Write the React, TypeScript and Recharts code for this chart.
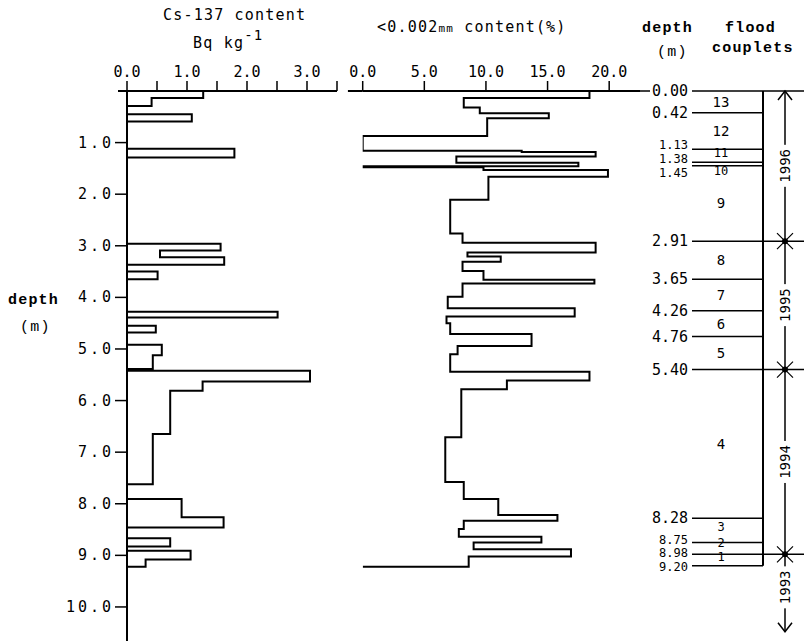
import React from 'react'
import { LineChart, Line, XAxis, YAxis, ReferenceLine, ReferenceDot } from 'recharts'

const FONT = '"DejaVu Sans Mono", monospace'
const BOLD = '"Liberation Mono", monospace'
const depthMax = 10.66

// Cs-137 profile: top depth of each layer (m) and its content (Bq/kg)
const csTop = [0, 0.135, 0.29, 0.45, 0.59, 1.12, 1.29, 2.96, 3.09, 3.22, 3.37, 3.5, 3.65, 4.28, 4.39, 4.55, 4.68, 4.92, 5.12, 5.39, 5.42, 5.63, 5.81, 6.65, 7.62, 7.91, 8.26, 8.46, 8.67, 8.83, 8.91, 9.08, 9.22]
const csValue = [1.27, 0.41, 0, 1.08, 0, 1.79, 0, 1.56, 0.55, 1.62, 0, 0.51, 0, 2.51, 0, 0.48, 0, 0.58, 0.43, 0, 3.05, 1.26, 0.72, 0.43, 0, 0.91, 1.61, 0, 0.72, 0, 1.06, 0.31, 0]

// <0.002mm clay profile (%)
const clayTop = [0, 0.135, 0.32, 0.43, 0.53, 0.87, 1.16, 1.18, 1.27, 1.39, 1.46, 1.48, 1.53, 1.66, 2.11, 2.76, 2.94, 3.13, 3.21, 3.31, 3.49, 3.66, 3.73, 3.99, 4.21, 4.37, 4.5, 4.71, 4.94, 5.1, 5.44, 5.61, 5.78, 6.71, 7.58, 7.91, 8.22, 8.33, 8.49, 8.64, 8.75, 8.88, 9.02, 9.22]
const clayValue = [18.4, 8.2, 9.5, 15.1, 10.1, 0, 12.9, 18.9, 7.6, 17.5, 0, 9.8, 19.9, 10.2, 7.1, 8.1, 18.9, 8.5, 11.2, 8.1, 9.8, 18.8, 8.1, 6.9, 17.2, 6.8, 7.1, 13.7, 7.7, 7.1, 18.4, 11.7, 8.0, 6.7, 8.2, 11.0, 15.8, 8.2, 7.8, 14.5, 9.0, 16.9, 8.6, 0]

const depthTicks = [1, 2, 3, 4, 5, 6, 7, 8, 9, 10]
const csTicks = [0, 0.5, 1, 1.5, 2, 2.5, 3, 3.5]
const clayTicks = [0, 5, 10, 15, 20]

// flood couplet boundaries (m), couplets numbered from the bottom
const boundaryDepths = [0, 0.42, 1.13, 1.38, 1.45, 2.91, 3.65, 4.26, 4.76, 5.4, 8.28, 8.75, 8.98, 9.2]
const yearBreaks = [0, 2.91, 5.4, 8.98]
const years = ['1996', '1995', '1994', '1993']
const yearCenters = [1.45, 4.15, 7.19, 9.62]

const csData = csTop.map((depth, i) => ({ depth, v: csValue[i] }))
const clayData = clayTop.map((depth, i) => ({ depth, v: clayValue[i] }))
const bracketData = boundaryDepths.map(depth => ({ depth, x: 143 }))

const axisStyle = { stroke: '#000', strokeWidth: 2 }
const tickLineStyle = { stroke: '#000', strokeWidth: 1.5 }

// label nudges (px) where lines are too close together
const crowded: Record<string, number> = { '1.13': -4, '1.38': -3, '1.45': 7, '8.75': -2, '8.98': -1, '9.20': 1 }
const coupletNudge: Record<number, number> = { 11: -3, 10: 7, 3: -3, 2: -5, 1: -3 }

function TopTick(props: any) {
  const { x, y, payload } = props
  const v = payload.value
  if (!Number.isInteger(v)) return null
  return (
    <text x={x} y={y} dy={-1} textAnchor="middle" fontFamily={FONT} fontSize={15} fill="#000">
      {v.toFixed(1)}
    </text>
  )
}

function DepthTick(props: any) {
  const { x, y, payload } = props
  return (
    <text x={x + 3} y={y} dy={5} textAnchor="end" fontFamily={FONT} fontSize={15} letterSpacing={3} fill="#000">
      {payload.value.toFixed(1)}
    </text>
  )
}

export default function App() {
  const box: React.CSSProperties = { position: 'absolute', top: 0, left: 0, width: 804, height: 641, background: '#fff', overflow: 'hidden', color: '#000' }
  const t = (left: number, top: number, extra: React.CSSProperties = {}): React.CSSProperties => ({
    position: 'absolute', left, top, fontFamily: FONT, fontSize: 15, lineHeight: '18px', whiteSpace: 'pre', letterSpacing: 1.2, ...extra,
  })
  return (
    <div style={box}>
      <div style={{ position: 'absolute', left: 0, top: 0 }}>
        <LineChart layout="vertical" width={345} height={641} data={csData} margin={{ top: 61, right: 8, bottom: 0, left: 77 }}>
          <XAxis type="number" orientation="top" domain={[0, 3.5]} ticks={csTicks} interval={0} height={30} tickSize={10} tickMargin={3}
            axisLine={axisStyle} tickLine={tickLineStyle} tick={<TopTick />} allowDataOverflow />
          <YAxis type="number" dataKey="depth" domain={[0, depthMax]} ticks={depthTicks} interval={0} width={50} tickSize={12} tickMargin={4}
            axisLine={axisStyle} tickLine={tickLineStyle} tick={<DepthTick />} allowDataOverflow />
          <ReferenceLine segment={[{ x: -0.15, y: 0 }, { x: 0, y: 0 }]} stroke="#000" strokeWidth={2} ifOverflow="visible" />
          <Line type="stepBefore" dataKey="v" stroke="#000" strokeWidth={2} dot={false} isAnimationActive={false} />
        </LineChart>
      </div>

      <div style={{ position: 'absolute', left: 345, top: 0 }}>
        <LineChart layout="vertical" width={295} height={641} data={clayData} margin={{ top: 61, right: 0, bottom: 0, left: 17.7 }}>
          <XAxis type="number" orientation="top" domain={[0, 22.5]} ticks={clayTicks} interval={0} height={30} tickSize={10} tickMargin={3}
            axisLine={axisStyle} tickLine={tickLineStyle} tick={<TopTick />} allowDataOverflow />
          <YAxis type="number" dataKey="depth" domain={[0, depthMax]} width={0} tick={false} tickLine={false} axisLine={axisStyle} allowDataOverflow />
          <ReferenceLine segment={[{ x: -1.2, y: 0 }, { x: 0, y: 0 }]} stroke="#000" strokeWidth={2} ifOverflow="visible" />
          <Line type="stepBefore" dataKey="v" stroke="#000" strokeWidth={2} dot={false} isAnimationActive={false} />
        </LineChart>
      </div>

      <div style={{ position: 'absolute', left: 620, top: 0 }}>
        <LineChart layout="vertical" width={184} height={641} data={bracketData} margin={{ top: 91, right: 0, bottom: 0, left: 0 }}>
          <XAxis type="number" hide domain={[0, 184]} />
          <YAxis type="number" dataKey="depth" hide domain={[0, depthMax]} />
          <Line type="linear" dataKey="x" stroke="#000" strokeWidth={2} dot={false} isAnimationActive={false} />
          {boundaryDepths.map(d => {
            const long = yearBreaks.includes(d)
            return (
              <ReferenceLine key={'b' + d} segment={[{ x: d === 0 ? 0 : 72, y: d }, { x: long ? 184 : 143, y: d }]} stroke="#000" strokeWidth={1.5} />
            )
          })}
          <ReferenceLine segment={[{ x: 165, y: 0 }, { x: 165, y: 10.48 }]} stroke="#000" strokeWidth={1.5} />
          <ReferenceDot x={165} y={0} r={0} shape={(p: any) => (
            <path d={`M${p.cx - 7},${p.cy + 9} L${p.cx},${p.cy} L${p.cx + 7},${p.cy + 9}`} stroke="#000" strokeWidth={1.5} fill="none" />
          )} />
          <ReferenceDot x={165} y={10.48} r={0} shape={(p: any) => (
            <path d={`M${p.cx - 7},${p.cy - 9} L${p.cx},${p.cy} L${p.cx + 7},${p.cy - 9}`} stroke="#000" strokeWidth={1.5} fill="none" />
          )} />
          {yearBreaks.slice(1).map(d => (
            <ReferenceDot key={'s' + d} x={165} y={d} r={0} shape={(p: any) => (
              <g>
                <path d={`M${p.cx - 8},${p.cy - 8} L${p.cx + 8},${p.cy + 8} M${p.cx - 8},${p.cy + 8} L${p.cx + 8},${p.cy - 8}`} stroke="#000" strokeWidth={1.2} />
                <circle cx={p.cx} cy={p.cy} r={3} fill="#000" />
              </g>
            )} />
          ))}
          {years.map((yr, i) => (
            <ReferenceDot key={yr} x={165} y={yearCenters[i]} r={0} shape={(p: any) => (
              <g>
                <rect x={p.cx - 8} y={p.cy - 21} width={16} height={42} fill="#fff" />
                <text x={p.cx} y={p.cy} dy={5} transform={`rotate(-90 ${p.cx} ${p.cy})`} textAnchor="middle" fontFamily={FONT} fontSize={14} fill="#000">{yr}</text>
              </g>
            )} />
          ))}
          {boundaryDepths.slice(0, -1).map((d, i) => {
            const num = boundaryDepths.length - 1 - i
            const mid = (d + boundaryDepths[i + 1]) / 2
            const nudge = coupletNudge[num]
            const small = nudge !== undefined
            return (
              <ReferenceDot key={'c' + num} x={101} y={mid} r={0} shape={(p: any) => (
                <text x={p.cx} y={p.cy + (nudge || 0)} dy={small ? 4 : 5} textAnchor="middle" fontFamily={FONT} fontSize={small ? 12 : 14} fill="#000">{num}</text>
              )} />
            )
          })}
          {boundaryDepths.map(d => {
            const label = d.toFixed(2)
            const off = crowded[label]
            const small = off !== undefined
            return (
              <ReferenceDot key={'l' + d} x={68} y={d} r={0} shape={(p: any) => (
                <g>
                  {d === 0 && <rect x={p.cx - 38} y={p.cy - 8} width={42} height={16} fill="#fff" />}
                  <text x={p.cx} y={p.cy + (off || 0)} dy={small ? 4 : 5} textAnchor="end" fontFamily={FONT} fontSize={small ? 12 : 15} fill="#000">{label}</text>
                </g>
              )} />
            )
          })}
        </LineChart>
      </div>

      <div style={t(163, 6)}>Cs-137 content</div>
      <div style={t(193, 34)}>Bq kg<span style={{ position: 'relative', top: -8, fontSize: 14 }}>-1</span></div>
      <div style={t(377, 18)}>&lt;0.002<span style={{ fontSize: 11 }}>mm</span> content(%)</div>
      <div style={t(642, 20, { fontFamily: BOLD, fontWeight: 'bold' })}>depth</div>
      <div style={t(657, 44, { fontFamily: BOLD })}>(m)</div>
      <div style={t(725, 20, { fontFamily: BOLD, fontWeight: 'bold' })}>flood</div>
      <div style={t(712, 40, { fontFamily: BOLD, fontWeight: 'bold' })}>couplets</div>
      <div style={t(8, 292, { fontFamily: BOLD, fontWeight: 'bold' })}>depth</div>
      <div style={t(20, 319, { fontFamily: BOLD })}>(m)</div>
    </div>
  )
}
